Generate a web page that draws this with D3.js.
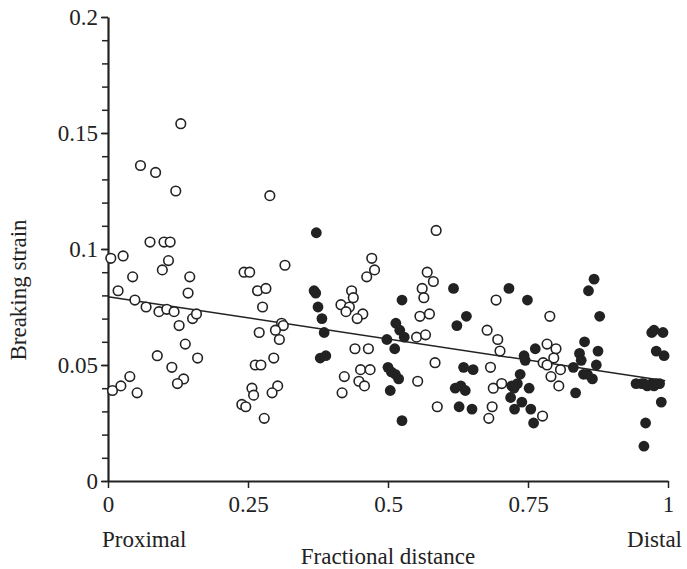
<!DOCTYPE html>
<html>
<head>
<meta charset="utf-8">
<script src="https://cdn.jsdelivr.net/npm/d3@7"></script>
<style>
  body { margin: 0; background: #fff; }
  text { font-family: "Liberation Serif", "Times New Roman", serif; fill: #222; }
</style>
</head>
<body>
<div id="chart"></div>
<script>
// open circles (proximal-ish segments)
var hollowX = [0.130,0.058,0.085,0.121,0.075,0.100,0.111,0.005,0.027,0.108,0.097,0.044,0.146,0.018,0.143,0.048,0.068,0.091,0.105,0.118,0.151,0.158,0.127,0.138,0.088,0.160,0.114,0.039,0.135,0.008,0.023,0.052,0.124,
  0.289,0.243,0.253,0.316,0.267,0.282,0.276,0.310,0.313,0.270,0.299,0.306,0.296,0.263,0.273,0.257,0.260,0.303,0.293,0.239,0.246,0.279,
  0.586,0.471,0.476,0.462,0.570,0.581,0.561,0.564,0.435,0.438,0.416,0.431,0.425,0.455,0.445,0.557,0.574,0.551,0.567,0.441,0.465,0.584,0.451,0.468,0.422,0.448,0.458,0.553,0.418,0.588,
  0.693,0.789,0.677,0.696,0.700,0.683,0.688,0.703,0.686,0.680,0.776,0.784,0.800,0.796,0.777,0.784,0.808,0.791,0.805];
var hollowY = [0.154,0.136,0.133,0.125,0.103,0.103,0.103,0.096,0.097,0.095,0.091,0.088,0.088,0.082,0.081,0.078,0.075,0.073,0.074,0.073,0.070,0.072,0.067,0.059,0.054,0.053,0.049,0.045,0.044,0.039,0.041,0.038,0.042,
  0.123,0.090,0.090,0.093,0.082,0.083,0.075,0.068,0.067,0.064,0.065,0.061,0.053,0.050,0.050,0.040,0.037,0.041,0.038,0.033,0.032,0.027,
  0.108,0.096,0.091,0.088,0.090,0.086,0.083,0.079,0.082,0.079,0.076,0.075,0.073,0.072,0.070,0.071,0.072,0.062,0.063,0.057,0.057,0.051,0.048,0.048,0.045,0.043,0.041,0.043,0.038,0.032,
  0.078,0.071,0.065,0.061,0.056,0.049,0.040,0.042,0.032,0.027,0.028,0.059,0.057,0.053,0.051,0.050,0.048,0.045,0.041];

// filled circles
var solidX = [0.372,0.368,0.371,0.375,0.382,0.386,0.379,0.389,
  0.525,0.514,0.521,0.529,0.498,0.512,0.500,0.506,0.513,0.519,0.504,0.525,
  0.617,0.716,0.749,0.640,0.623,0.763,0.743,0.745,0.635,0.652,0.736,0.731,0.725,0.721,0.752,0.620,0.630,0.638,0.719,0.739,0.627,0.650,0.726,0.755,0.760,
  0.868,0.858,0.878,0.851,0.875,0.842,0.845,0.831,0.872,0.849,0.856,0.865,0.835,
  0.971,0.975,0.991,0.979,0.993,0.943,0.953,0.957,0.963,0.971,0.975,0.979,0.985,0.988,0.960,0.957];
var solidY = [0.107,0.082,0.081,0.075,0.070,0.064,0.053,0.054,
  0.078,0.068,0.065,0.062,0.061,0.057,0.049,0.047,0.046,0.044,0.039,0.026,
  0.083,0.083,0.078,0.071,0.067,0.057,0.054,0.052,0.049,0.048,0.046,0.042,0.040,0.041,0.040,0.040,0.041,0.039,0.036,0.034,0.032,0.031,0.031,0.031,0.025,
  0.087,0.082,0.071,0.060,0.056,0.055,0.052,0.049,0.050,0.046,0.046,0.044,0.038,
  0.064,0.065,0.064,0.056,0.054,0.042,0.042,0.042,0.041,0.042,0.041,0.042,0.042,0.034,0.025,0.015];

// regression line
var fitIntercept = 0.0794;
var fitSlope = -0.0364;
var fitRange = [0, 0.995];

var xTicks = [0, 0.25, 0.5, 0.75, 1];
var yTicks = [0, 0.05, 0.1, 0.15, 0.2];
var yMinorTicks = d3.range(0, 21).map(function(i){ return i / 100; });

var width = 687, height = 569;

var svg = d3.select("#chart").append("svg")
  .attr("width", width)
  .attr("height", height);

var x = d3.scaleLinear().domain([0, 1]).range([108, 668]);
var y = d3.scaleLinear().domain([0, 0.2]).range([481, 17]);

// minor ticks on the y axis
svg.append("g")
  .attr("transform", "translate(108,0)")
  .call(d3.axisLeft(y).tickValues(yMinorTicks).tickSize(6).tickFormat(""))
  .call(function(g){ g.select(".domain").remove(); })
  .selectAll("line").attr("stroke", "#222").attr("stroke-width", 1.5);

// y axis
var yAxis = svg.append("g")
  .attr("transform", "translate(108,0)")
  .call(d3.axisLeft(y).tickValues(yTicks).tickSize(7).tickSizeOuter(0).tickPadding(3).tickFormat(function(d){ return String(d); }));
yAxis.select(".domain").attr("stroke", "#222").attr("stroke-width", 2.2);
yAxis.selectAll("line").attr("stroke", "#222").attr("stroke-width", 1.5);
yAxis.selectAll("text").style("font-size", "23px").style("font-family", "Liberation Serif").attr("fill", "#222");

// x axis
var xAxis = svg.append("g")
  .attr("transform", "translate(0,481)")
  .call(d3.axisBottom(x).tickValues(xTicks).tickSize(7).tickSizeOuter(0).tickPadding(8).tickFormat(function(d){ return String(d); }));
xAxis.select(".domain").attr("stroke", "#222").attr("stroke-width", 2.2);
xAxis.selectAll("line").attr("stroke", "#222").attr("stroke-width", 1.5);
xAxis.selectAll("text").style("font-size", "23px").style("font-family", "Liberation Serif").attr("fill", "#222");

// fitted line
svg.append("line")
  .attr("x1", x(fitRange[0])).attr("y1", y(fitIntercept + fitSlope * fitRange[0]))
  .attr("x2", x(fitRange[1])).attr("y2", y(fitIntercept + fitSlope * fitRange[1]))
  .attr("stroke", "#222").attr("stroke-width", 1.5);

// open points
svg.append("g").selectAll("circle")
  .data(d3.zip(hollowX, hollowY))
  .enter().append("circle")
  .attr("cx", function(d){ return x(d[0]); })
  .attr("cy", function(d){ return y(d[1]); })
  .attr("r", 4.8)
  .attr("fill", "#fff")
  .attr("stroke", "#222")
  .attr("stroke-width", 1.6);

// filled points
svg.append("g").selectAll("circle")
  .data(d3.zip(solidX, solidY))
  .enter().append("circle")
  .attr("cx", function(d){ return x(d[0]); })
  .attr("cy", function(d){ return y(d[1]); })
  .attr("r", 5.4)
  .attr("fill", "#222");

// labels
svg.append("text")
  .attr("transform", "translate(26,290) rotate(-90)")
  .attr("text-anchor", "middle")
  .style("font-size", "23px")
  .text("Breaking strain");

svg.append("text")
  .attr("x", 102).attr("y", 547)
  .style("font-size", "23px")
  .text("Proximal");

svg.append("text")
  .attr("x", 682).attr("y", 547)
  .attr("text-anchor", "end")
  .style("font-size", "23px")
  .text("Distal");

svg.append("text")
  .attr("x", 388).attr("y", 564)
  .attr("text-anchor", "middle")
  .style("font-size", "23px")
  .text("Fractional distance");
</script>
</body>
</html>
